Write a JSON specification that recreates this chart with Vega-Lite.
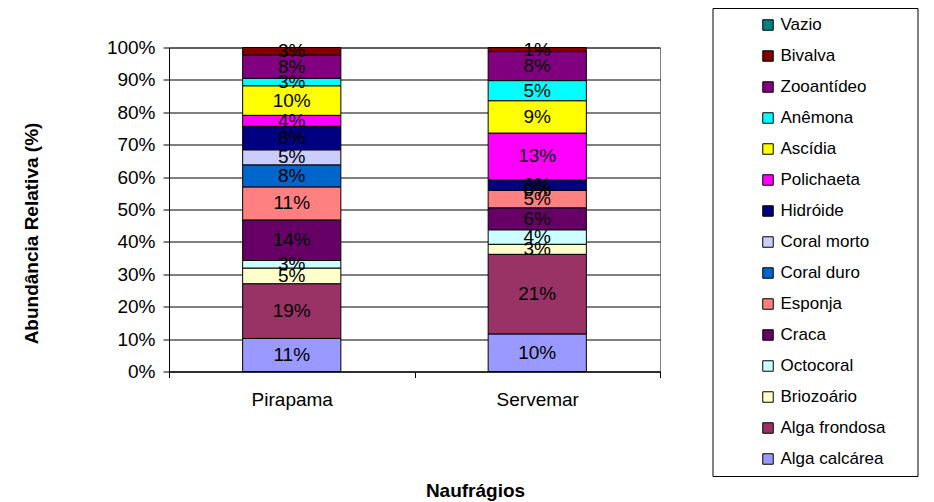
{
  "$schema": "https://vega.github.io/schema/vega-lite/v6.json",
  "autosize": "none",
  "width": 491,
  "height": 324,
  "padding": {"left": 169, "top": 47.5, "right": 274, "bottom": 130.5},
  "background": "white",
  "config": {
    "font": "Liberation Sans",
    "view": {"stroke": "#808080", "strokeWidth": 1},
    "axisY": {
      "format": ".0%",
      "values": [0, 0.1, 0.2, 0.3, 0.4, 0.5, 0.6, 0.7, 0.8, 0.9, 1],
      "labelOverlap": false,
      "grid": true,
      "gridColor": "black",
      "gridWidth": 1,
      "tickColor": "black",
      "tickSize": 6,
      "domainColor": "black",
      "labelColor": "black",
      "labelFontSize": 19,
      "labelPadding": 8,
      "titleColor": "black",
      "titleFontSize": 19,
      "titleFontWeight": "bold",
      "titleX": -138,
      "titleY": 185.5,
      "titleAngle": -90,
      "titleAlign": "center",
      "titleBaseline": "middle"
    }
  },
  "data": {
    "values": [
      {"wreck": "Pirapama", "taxon": "Alga calcárea", "ord": 1, "value": 0.114},
      {"wreck": "Pirapama", "taxon": "Alga frondosa", "ord": 2, "value": 0.189},
      {"wreck": "Pirapama", "taxon": "Briozoário", "ord": 3, "value": 0.054},
      {"wreck": "Pirapama", "taxon": "Octocoral", "ord": 4, "value": 0.026},
      {"wreck": "Pirapama", "taxon": "Craca", "ord": 5, "value": 0.140},
      {"wreck": "Pirapama", "taxon": "Esponja", "ord": 6, "value": 0.114},
      {"wreck": "Pirapama", "taxon": "Coral duro", "ord": 7, "value": 0.076},
      {"wreck": "Pirapama", "taxon": "Coral morto", "ord": 8, "value": 0.052},
      {"wreck": "Pirapama", "taxon": "Hidróide", "ord": 9, "value": 0.081},
      {"wreck": "Pirapama", "taxon": "Polichaeta", "ord": 10, "value": 0.038},
      {"wreck": "Pirapama", "taxon": "Ascídia", "ord": 11, "value": 0.102},
      {"wreck": "Pirapama", "taxon": "Anêmona", "ord": 12, "value": 0.026},
      {"wreck": "Pirapama", "taxon": "Zooantídeo", "ord": 13, "value": 0.080},
      {"wreck": "Pirapama", "taxon": "Bivalva", "ord": 14, "value": 0.026},
      {"wreck": "Servemar", "taxon": "Alga calcárea", "ord": 1, "value": 0.101},
      {"wreck": "Servemar", "taxon": "Alga frondosa", "ord": 2, "value": 0.214},
      {"wreck": "Servemar", "taxon": "Briozoário", "ord": 3, "value": 0.027},
      {"wreck": "Servemar", "taxon": "Octocoral", "ord": 4, "value": 0.039},
      {"wreck": "Servemar", "taxon": "Craca", "ord": 5, "value": 0.059},
      {"wreck": "Servemar", "taxon": "Esponja", "ord": 6, "value": 0.047},
      {"wreck": "Servemar", "taxon": "Coral duro", "ord": 7, "value": 0},
      {"wreck": "Servemar", "taxon": "Coral morto", "ord": 8, "value": 0},
      {"wreck": "Servemar", "taxon": "Hidróide", "ord": 9, "value": 0.028},
      {"wreck": "Servemar", "taxon": "Polichaeta", "ord": 10, "value": 0.126},
      {"wreck": "Servemar", "taxon": "Ascídia", "ord": 11, "value": 0.087},
      {"wreck": "Servemar", "taxon": "Anêmona", "ord": 12, "value": 0.054},
      {"wreck": "Servemar", "taxon": "Zooantídeo", "ord": 13, "value": 0.078},
      {"wreck": "Servemar", "taxon": "Bivalva", "ord": 14, "value": 0.011}
    ]
  },
  "encoding": {
    "x": {
      "field": "wreck",
      "type": "nominal",
      "sort": ["Pirapama", "Servemar"],
      "scale": {"paddingInner": 0, "paddingOuter": 0},
      "axis": {
        "title": "Naufrágios",
        "labelAngle": 0,
        "tickBand": "extent",
        "tickSize": 6,
        "tickColor": "black",
        "domainColor": "black",
        "labelColor": "black",
        "labelFontSize": 19,
        "labelPadding": 13,
        "grid": false,
        "titleColor": "black",
        "titleFontSize": 19,
        "titleFontWeight": "bold",
        "titleX": 306,
        "titleY": 118.5,
        "titleAlign": "center",
        "titleBaseline": "middle"
      }
    }
  },
  "layer": [
    {
      "mark": {"type": "bar", "width": {"band": 0.4}, "stroke": "black", "strokeWidth": 1},
      "encoding": {
        "y": {
          "field": "value",
          "type": "quantitative",
          "stack": "normalize",
          "scale": {"domain": [0, 1]},
          "title": "Abundância Relativa (%)"
        },
        "color": {
          "field": "taxon",
          "type": "nominal",
          "scale": {
            "domain": ["Vazio", "Bivalva", "Zooantídeo", "Anêmona", "Ascídia", "Polichaeta", "Hidróide", "Coral morto", "Coral duro", "Esponja", "Craca", "Octocoral", "Briozoário", "Alga frondosa", "Alga calcárea"],
            "range": ["#008080", "#800000", "#800080", "#00FFFF", "#FFFF00", "#FF00FF", "#000080", "#CCCCFF", "#0066CC", "#FF8080", "#660066", "#CCFFFF", "#FFFFCC", "#993366", "#9999FF"]
          },
          "legend": {
            "title": " ",
            "titleOrient": "right",
            "titlePadding": 24,
            "orient": "none",
            "legendX": 543.5,
            "legendY": -39.5,
            "padding": 8.5,
            "strokeColor": "black",
            "fillColor": "white",
            "symbolType": "square",
            "symbolSize": 110,
            "symbolStrokeColor": "black",
            "symbolStrokeWidth": 1,
            "symbolOffset": 38.5,
            "labelFontSize": 17,
            "labelOffset": 4,
            "labelColor": "black",
            "labelLimit": 250,
            "rowPadding": 13
          }
        },
        "order": {"field": "ord", "type": "quantitative"}
      }
    },
    {
      "mark": {"type": "text", "fontSize": 19, "color": "black"},
      "encoding": {
        "y": {"field": "value", "type": "quantitative", "stack": "normalize", "bandPosition": 0.5, "title": "Abundância Relativa (%)"},
        "detail": {"field": "taxon"},
        "text": {"field": "value", "type": "quantitative", "format": ".0%"},
        "order": {"field": "ord", "type": "quantitative"}
      }
    }
  ]
}
